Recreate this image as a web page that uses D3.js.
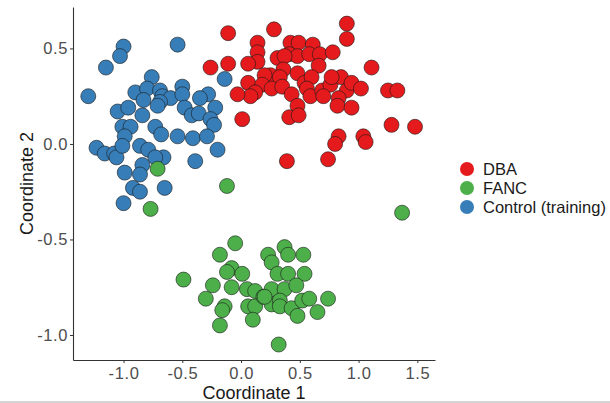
<!DOCTYPE html>
<html>
<head>
<meta charset="utf-8">
<script src="https://cdn.jsdelivr.net/npm/d3@7"></script>
<style>
  body { margin: 0; background: #fff; }
  svg { font-family: "Liberation Sans", Arial, sans-serif; }
</style>
</head>
<body>
<div id="chart"></div>
<script>
// DATOS.
var groups = ["DBA", "FANC", "Control (training)"];
var groupColors = ["#e41a1c", "#4daf4a", "#377eb8"];
var xTicks = [-1.0, -0.5, 0.0, 0.5, 1.0, 1.5];
var yTicks = [-1.0, -0.5, 0.0, 0.5];

// [coordinate 1, coordinate 2]
var dba = [
  [-0.11, 0.58], [0.28, 0.60], [0.90, 0.63], [0.90, 0.55], [0.14, 0.53], [0.14, 0.48],
  [0.14, 0.43], [0.06, 0.42], [-0.11, 0.42], [-0.26, 0.40], [0.42, 0.53], [0.49, 0.53],
  [0.61, 0.52], [0.41, 0.47], [0.48, 0.46], [0.31, 0.45], [0.37, 0.46], [0.58, 0.47],
  [0.67, 0.47], [0.78, 0.48], [0.66, 0.41], [0.36, 0.39], [0.48, 0.37], [0.25, 0.36],
  [0.20, 0.36], [0.33, 0.35], [1.11, 0.40], [0.06, 0.32], [0.18, 0.31], [0.26, 0.29],
  [0.35, 0.30], [0.12, 0.27], [0.08, 0.25], [-0.03, 0.26], [0.43, 0.26], [0.54, 0.32],
  [0.60, 0.35], [0.56, 0.29], [0.59, 0.25], [0.69, 0.28], [0.76, 0.31], [0.85, 0.35],
  [0.77, 0.35], [0.90, 0.28], [0.94, 0.32], [1.02, 0.29], [0.70, 0.25], [0.83, 0.24],
  [0.82, 0.20], [0.94, 0.19], [0.48, 0.20], [0.41, 0.14], [0.49, 0.15], [1.25, 0.28],
  [1.33, 0.28], [0.01, 0.13], [1.28, 0.10], [1.48, 0.09], [0.83, 0.04], [0.80, 0.00],
  [1.04, 0.04], [1.06, 0.01], [0.39, -0.09], [0.74, -0.08]
];
var fanc = [
  [-0.05, -0.52], [-0.18, -0.58], [-0.49, -0.71], [-0.08, -0.65], [-0.12, -0.67], [0.01, -0.68],
  [-0.24, -0.74], [-0.08, -0.75], [-0.30, -0.81], [-0.14, -0.85], [-0.16, -0.87], [-0.18, -0.95],
  [0.05, -0.76], [0.12, -0.77], [0.06, -0.85], [0.12, -0.85], [0.10, -0.92], [0.19, -0.80],
  [0.23, -0.58], [0.26, -0.62], [0.37, -0.54], [0.40, -0.58], [0.53, -0.58], [0.31, -0.68],
  [0.40, -0.68], [0.54, -0.68], [0.26, -0.76], [0.37, -0.76], [0.47, -0.74], [0.26, -0.84],
  [0.33, -0.82], [0.33, -0.85], [0.43, -0.86], [0.48, -0.90], [0.52, -0.82], [0.58, -0.81],
  [0.65, -0.88], [0.74, -0.81], [0.32, -1.05], [0.20, -0.80],
  [-0.71, -0.13], [-0.12, -0.22], [-0.77, -0.34], [1.37, -0.36]
];
var control = [
  [-1.00, 0.51], [-1.03, 0.46], [-1.15, 0.40], [-0.54, 0.52], [-1.30, 0.25], [-0.76, 0.35],
  [-0.14, 0.34], [-0.90, 0.27], [-0.80, 0.29], [-0.83, 0.23], [-0.69, 0.28], [-0.67, 0.25],
  [-0.60, 0.24], [-0.69, 0.22], [-0.50, 0.30], [-0.50, 0.26], [-0.28, 0.26], [-0.35, 0.24],
  [-1.05, 0.17], [-0.96, 0.19], [-0.84, 0.15], [-0.71, 0.20], [-0.48, 0.19], [-0.42, 0.15],
  [-0.36, 0.16], [-0.22, 0.19], [-0.26, 0.13], [-0.23, 0.10], [-1.01, 0.09], [-0.94, 0.09],
  [-0.73, 0.09], [-0.68, 0.05], [-0.99, 0.04], [-0.54, 0.04], [-0.41, 0.03], [-0.29, 0.04],
  [-1.23, -0.02], [-1.16, -0.05], [-1.08, -0.05], [-1.06, -0.07], [-1.01, -0.01], [-0.86, -0.01],
  [-0.79, -0.03], [-0.66, -0.07], [-0.73, -0.07], [-0.20, -0.03], [-0.39, -0.09], [-0.84, -0.11],
  [-0.99, -0.15], [-0.86, -0.16], [-0.92, -0.23], [-0.86, -0.25], [-0.65, -0.23], [-1.00, -0.31]
];

// MAQUETADO.
var width = 610, height = 403;
var margin = { top: 7, right: 175, bottom: 43, left: 73 };
var plotW = width - margin.left - margin.right,
    plotH = height - margin.top - margin.bottom;
var radius = 7.5;

var svg = d3.select("#chart").append("svg")
  .attr("width", width)
  .attr("height", height);

var x = d3.scaleLinear().domain([-1.43, 1.65]).range([0, plotW]);
var y = d3.scaleLinear().domain([-1.131, 0.717]).range([plotH, 0]);

var g = svg.append("g")
  .attr("transform", "translate(" + margin.left + "," + margin.top + ")");

// puntos: orden de pintado como en el original
var series = [
  { name: groups[2], color: groupColors[2], pts: control },
  { name: groups[0], color: groupColors[0], pts: dba },
  { name: groups[1], color: groupColors[1], pts: fanc }
];
series.forEach(function(s){
  g.append("g").selectAll("circle")
    .data(s.pts).enter()
    .append("circle")
    .attr("cx", function(d){ return x(d[0]); })
    .attr("cy", function(d){ return y(d[1]); })
    .attr("r", radius)
    .attr("fill", s.color)
    .attr("stroke", "#1a1a1a")
    .attr("stroke-width", 0.6);
});

// EJES
var fmt = function(d){ return d3.format(".1f")(d).replace("\u2212", "-"); };
var xAxis = g.append("g")
  .attr("transform", "translate(0," + plotH + ")")
  .call(d3.axisBottom(x).tickValues(xTicks).tickFormat(fmt).tickSize(3).tickSizeOuter(0).tickPadding(4));
var yAxis = g.append("g")
  .call(d3.axisLeft(y).tickValues(yTicks).tickFormat(fmt).tickSize(3).tickSizeOuter(0).tickPadding(2));

[xAxis, yAxis].forEach(function(a){
  a.select(".domain").attr("stroke", "#333").attr("stroke-width", 1.1);
  a.selectAll(".tick line").attr("stroke", "#333");
  a.selectAll(".tick text")
    .attr("fill", "#4d4d4d")
    .attr("font-size", 16.5)
    .attr("letter-spacing", 0.6)
    .attr("font-family", "Liberation Sans, Arial, sans-serif");
});

svg.append("text")
  .attr("x", margin.left + plotW / 2)
  .attr("y", 399)
  .attr("text-anchor", "middle")
  .attr("font-size", 18)
  .attr("fill", "#1a1a1a")
  .text("Coordinate 1");

svg.append("text")
  .attr("transform", "translate(33," + (margin.top + plotH / 2) + ") rotate(-90)")
  .attr("text-anchor", "middle")
  .attr("font-size", 18)
  .attr("fill", "#1a1a1a")
  .text("Coordinate 2");

// LEYENDA
var legend = svg.append("g").attr("transform", "translate(467,169)");
var items = legend.selectAll("g")
  .data(groups).enter()
  .append("g")
  .attr("transform", function(d, i){ return "translate(0," + (i * 19) + ")"; });
items.append("circle")
  .attr("r", 7)
  .attr("fill", function(d, i){ return groupColors[i]; });
items.append("text")
  .attr("x", 16)
  .attr("y", 6)
  .attr("font-size", 16.5)
  .attr("fill", "#1a1a1a")
  .text(function(d){ return d; });

// borde inferior de la captura
svg.append("line")
  .attr("x1", 0).attr("x2", width)
  .attr("y1", 402).attr("y2", 402)
  .attr("stroke", "#aaa");
</script>
</body>
</html>
